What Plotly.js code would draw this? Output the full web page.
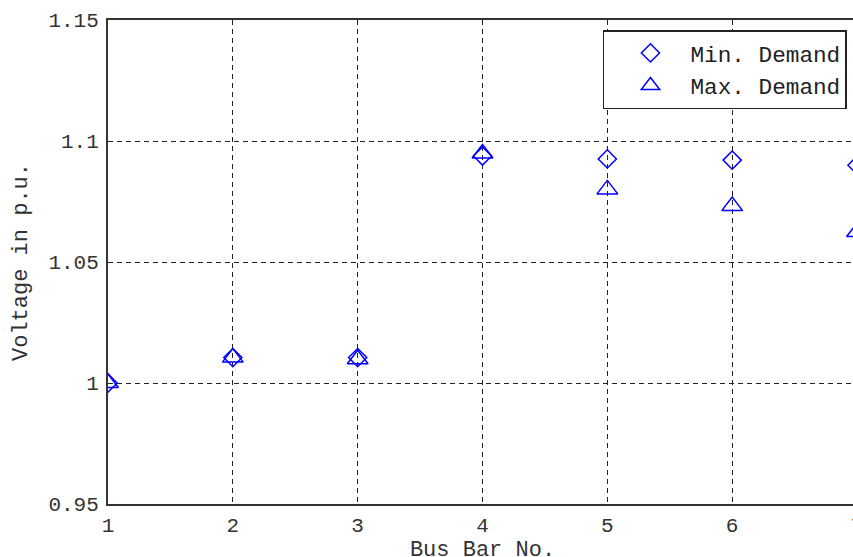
<!DOCTYPE html>
<html>
<head>
<meta charset="utf-8">
<script src="https://cdn.plot.ly/plotly-3.0.1.min.js"></script>
<style>
html,body{margin:0;padding:0;overflow:hidden;background:#fff;width:853px;height:557px;}
#chart{width:900px;height:580px;}
</style>
</head>
<body>
<div id="chart"></div>
<script>
const busBars = [1, 2, 3, 4, 5, 6, 7];
const minDemand = [1.000, 1.0105, 1.0105, 1.0938, 1.0926, 1.0921, 1.0900];
const maxDemand = [1.000, 1.0105, 1.0098, 1.0948, 1.0800, 1.0731, 1.0624];
const yTickVals = [0.95, 1.0, 1.05, 1.1, 1.15];
const yTickText = ['0.95', '1', '1.05', '1.1', '1.15'];
const xTickVals = [1, 2, 3, 4, 5, 6, 7];

const fam = '"Liberation Mono", "DejaVu Sans Mono", monospace';
const tickFont = {family: fam, size: 21, color: '#333'};
const titleFont = {family: fam, size: 22, color: '#333'};

const traces = [
  {x: busBars, y: minDemand, name: 'Min. Demand', mode: 'markers', type: 'scatter',
   marker: {symbol: 'diamond-open', size: 14, color: '#0000ff', line: {width: 1.5, color: '#0000ff'}}},
  {x: busBars, y: maxDemand, name: 'Max. Demand', mode: 'markers', type: 'scatter',
   marker: {symbol: 'triangle-up-open', size: 18, color: '#0000ff', line: {width: 1.5, color: '#0000ff'}}}
];

const layout = {
  width: 900, height: 580,
  margin: {l: 108, r: 43, t: 20, b: 76},
  paper_bgcolor: '#fff', plot_bgcolor: '#fff',
  font: tickFont,
  showlegend: true,
  legend: {x: 0.9866, y: 0.979, xanchor: 'right', yanchor: 'top',
           bgcolor: '#fff', bordercolor: '#222', borderwidth: 1.5,
           itemwidth: 70, indentation: 6,
           font: {family: fam, size: 22.7, color: '#222'}},
  xaxis: {range: [1, 7], tickvals: xTickVals, ticktext: xTickVals.map(String),
          showgrid: true, gridcolor: '#222', griddash: '5px,4px', gridwidth: 1,
          zeroline: false, showline: true, mirror: true, linecolor: '#333', linewidth: 2,
          ticks: '', tickfont: tickFont, ticklabelstandoff: 1,
          title: {text: 'Bus Bar No.', font: titleFont, standoff: 1}},
  yaxis: {range: [0.95, 1.15], tickvals: yTickVals, ticktext: yTickText,
          showgrid: true, gridcolor: '#222', griddash: '5px,4px', gridwidth: 1,
          zeroline: false, showline: true, mirror: true, linecolor: '#333', linewidth: 2,
          ticks: '', tickfont: tickFont, ticklabelstandoff: 3,
          title: {text: 'Voltage in p.u.', font: titleFont, standoff: 15}}
};

Plotly.newPlot('chart', traces, layout, {displayModeBar: false, staticPlot: true});
</script>
</body>
</html>
